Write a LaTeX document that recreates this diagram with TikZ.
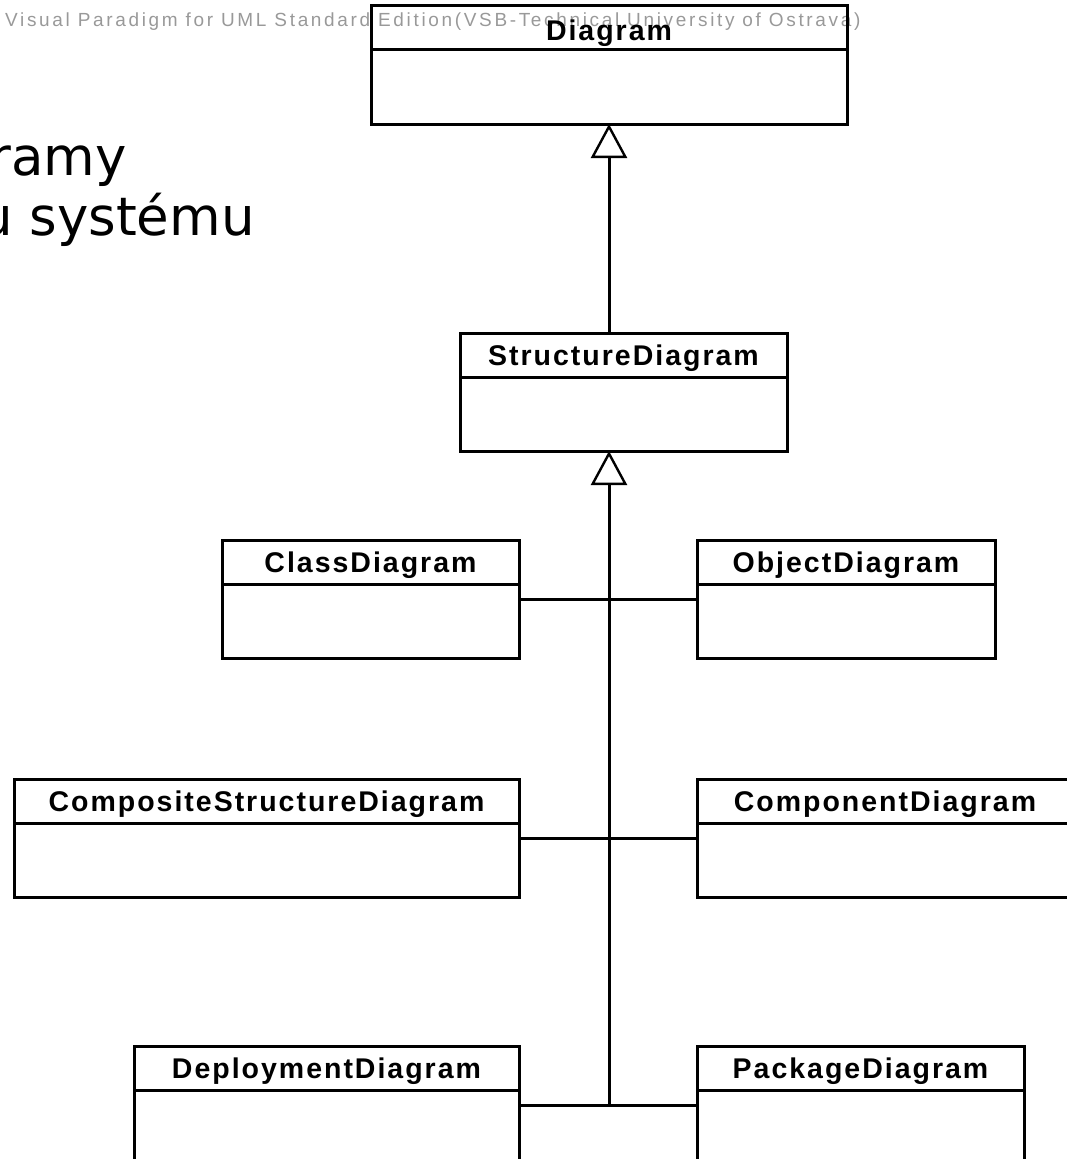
\documentclass[tikz,border=0pt]{standalone}
\usepackage{fontspec}
\newfontfamily\umlfont{Liberation Sans}[LetterSpace=7]
\newfontfamily\markfont{Liberation Sans}[LetterSpace=14]
\newfontfamily\headfont{DejaVu Sans}
\usetikzlibrary{arrows.meta}

\begin{document}
\begin{tikzpicture}[x=1pt,y=-1pt,
  umlbox/.style={draw, line width=3pt, rectangle, anchor=north west,
    outer sep=0pt, inner sep=0pt, minimum height=118pt},
  umltitle/.style={anchor=base, inner sep=0pt,
    font=\umlfont\bfseries\fontsize{28.5}{30}\selectfont},
  link/.style={line width=3pt},
  gen/.style={link, -{Triangle[open, length=34pt, width=36pt, line width=2.4pt]}},
  heading/.style={anchor=base east, inner sep=0pt,
    font=\headfont\fontsize{53}{60}\selectfont},
]
\useasboundingbox (0,0) rectangle (1067,1159);
\clip (0,0) rectangle (1067,1159);

% tool watermark line
\node[anchor=base west, inner sep=0pt, text=black!40,
  font=\markfont\fontsize{19}{20}\selectfont] (mark) at (5,27)
  {Visual Paradigm for UML Standard Edition(VSB-Technical University of Ostrava)};

% slide heading
\node[heading] (head1) at (127,175) {ramy};
\node[heading] (head2) at (255,235) {u systému};

% class boxes
\node[umlbox, minimum width=476pt, minimum height=119pt] (diagram) at (371,5) {};
\node[umlbox, minimum width=327pt] (structure) at (460,333) {};
\node[umlbox, minimum width=297pt] (class) at (222,540) {};
\node[umlbox, minimum width=298pt] (object) at (697,540) {};
\node[umlbox, minimum width=505pt] (composite) at (14,779) {};
\node[umlbox, minimum width=376pt] (component) at (697,779) {};
\node[umlbox, minimum width=385pt] (deployment) at (134,1046) {};
\node[umlbox, minimum width=327pt] (package) at (697,1046) {};

% names and compartment separators
\foreach \b/\t/\d in {diagram/Diagram/35, structure/StructureDiagram/32,
    class/ClassDiagram/32, object/ObjectDiagram/32,
    composite/CompositeStructureDiagram/32, component/ComponentDiagram/32,
    deployment/DeploymentDiagram/32, package/PackageDiagram/32} {
  \node[umltitle] (\b-title) at ([yshift=-\d pt]\b.north) {\t};
  \draw[link] ([yshift=-44pt]\b.north west) -- ([yshift=-44pt]\b.north east);
}

% generalizations
\draw[gen] (structure.north -| diagram.south) -- (diagram.south);
\coordinate (bus) at (diagram.south |- deployment.east);
\draw[gen] (bus) -- (bus |- structure.south);
\draw[link] (class.east) -- (object.west);
\draw[link] (composite.east) -- (component.west);
\draw[link] (deployment.east) -- (package.west);
\end{tikzpicture}
\end{document}
